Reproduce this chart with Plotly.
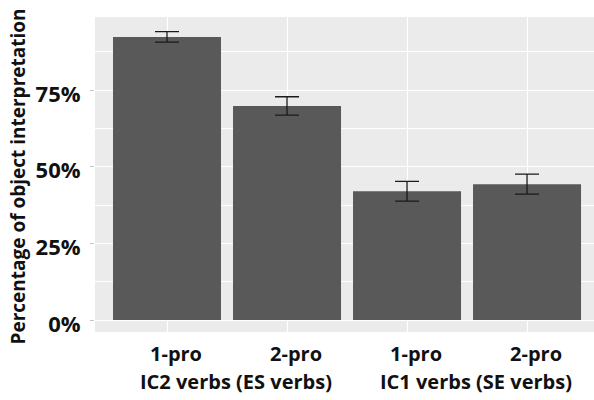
import plotly.graph_objects as go

categories = ["1-pro", "2-pro", "1-pro", "2-pro"]
positions = [1, 2, 3, 4]
values = [92.3, 69.8, 42.0, 44.3]
errors = [1.7, 3.0, 3.2, 3.25]
group_labels = ["IC2 verbs (ES verbs)", "IC1 verbs (SE verbs)"]
group_positions = [1.5, 3.5]
y_ticks = [0, 25, 50, 75]
y_tick_labels = ["0%", "25%", "50%", "75%"]

FONT = "Open Sans"

fig = go.Figure()
fig.add_trace(go.Bar(
    x=positions, y=values, width=0.9,
    marker=dict(color="#595959", line=dict(width=0)),
    error_y=dict(type="data", array=errors, visible=True,
                 color="#1a1a1a", thickness=1.3, width=12),
    showlegend=False,
))

for gx, gl in zip(group_positions, group_labels):
    fig.add_annotation(x=gx, y=0, xref="x", yref="paper",
                       text=f"<b>{gl}</b>", showarrow=False,
                       xanchor="center", yanchor="middle",
                       xshift=9, yshift=-49,
                       font=dict(family=FONT, size=20, color="#111111"))

fig.add_annotation(x=0, y=0.4937, xref="paper", yref="paper",
                   text="<b>Percentage of object interpretation</b>",
                   textangle=-90, showarrow=False,
                   xanchor="center", yanchor="middle", xshift=-77,
                   font=dict(family=FONT, size=19, color="#111111"))

fig.update_layout(
    width=594, height=400,
    margin=dict(l=95, r=0, t=17, b=68),
    paper_bgcolor="white",
    plot_bgcolor="#EBEBEB",
    font=dict(family=FONT, color="#111111"),
    xaxis=dict(
        range=[0.4, 4.558], tickvals=positions,
        ticktext=[f"<b>{c}</b>" for c in categories],
        tickfont=dict(family=FONT, size=20, color="#111111"),
        showgrid=True, gridcolor="white", gridwidth=1.1,
        zeroline=False, showline=False, ticks="",
        ticklabelshift=9, ticklabelstandoff=8,
    ),
    yaxis=dict(
        range=[-3.9, 98.8], tickvals=y_ticks,
        ticktext=[f"<b>{t}</b>" for t in y_tick_labels],
        tickfont=dict(family=FONT, size=22, color="#111111"),
        showgrid=True, gridcolor="white", gridwidth=1.1,
        zeroline=False, showline=False,
        ticks="outside", ticklen=4, tickcolor="#c8c8c8", tickwidth=1,
        ticklabelstandoff=5, ticklabelshift=4,
        minor=dict(showgrid=True, gridcolor="white", gridwidth=0.5,
                   tick0=0, dtick=12.5),
    ),
)

fig.write_html("out.html")
